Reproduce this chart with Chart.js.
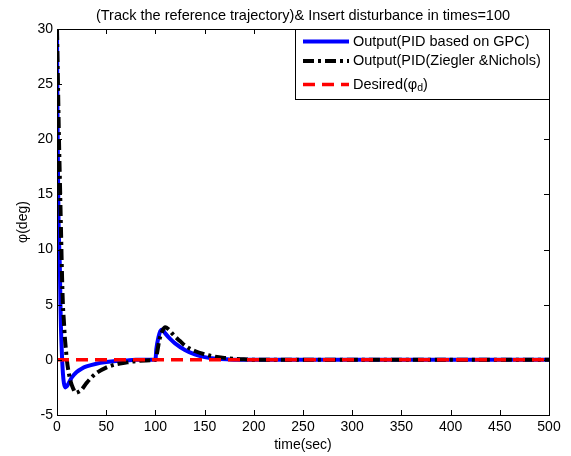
<!DOCTYPE html>
<html>
<head>
<meta charset="utf-8">
<script src="https://cdn.jsdelivr.net/npm/chart.js@4.4.1/dist/chart.umd.min.js"></script>
<style>
  html, body { margin: 0; padding: 0; background: #fff; }
  #wrap { width: 571px; height: 456px; }
</style>
</head>
<body>
<div id="wrap"><canvas id="phiChart" width="571" height="456"></canvas></div>
<script>
// --- data ---
const chartTitle = '(Track the reference trajectory)& Insert disturbance in times=100';
const xTitle = 'time(sec)';
const yTitle = 'φ(deg)';

const gpcTime = [0, 0.5, 1, 1.5, 2, 3, 3.5, 4, 5, 6, 7, 8.5, 10, 12, 15, 20, 25, 30, 40, 50,
    60, 70, 80, 100, 101, 103, 105, 107, 110, 115, 120, 130, 140, 150, 160, 175, 190, 500];
const gpcValues = [30, 22, 17, 13, 11, 8, 5, 3, 0.5, -1.2, -2.1, -2.5, -2.4, -2.1, -1.6, -1.1, -0.8, -0.6, -0.35, -0.2,
    -0.1, -0.05, 0, 0, 1.0, 2.0, 2.6, 2.75, 2.4, 1.9, 1.5, 0.9, 0.5, 0.25, 0.12, 0.04, 0, 0];

const znTime = [0, 1, 2, 3, 4, 5, 6, 7, 8, 9, 10, 12, 14, 16, 19, 22, 25, 30, 35, 40,
    50, 60, 70, 80, 90, 100, 102, 104, 107, 110, 113, 117, 120, 125, 130, 140, 150, 160, 170, 180,
    190, 200, 500];
const znValues = [30, 25, 20, 16, 12, 8, 5, 3.5, 2, 1, 0, -1.2, -2, -2.5, -3.0, -2.9, -2.7, -2.1, -1.6, -1.2,
    -0.7, -0.4, -0.25, -0.12, -0.05, 0, 0.8, 1.8, 2.6, 2.95, 2.8, 2.4, 2.1, 1.7, 1.3, 0.8, 0.5, 0.3, 0.18, 0.1,
    0.05, 0, 0];

const desiredTime = [0, 500];
const desiredValues = [0, 0];

const xTicks = [0, 50, 100, 150, 200, 250, 300, 350, 400, 450, 500];
const yTicks = [-5, 0, 5, 10, 15, 20, 25, 30];

const legendLabels = ['Output(PID based on GPC)', 'Output(PID(Ziegler &Nichols)', 'Desired(φ'];

const toPoints = (xs, ys) => xs.map((x, i) => ({ x: x, y: ys[i] }));
const FONT = "'Liberation Sans', Arial, sans-serif";

// MATLAB style: title, box, inward ticks and a legend inside the axes
const matlabBox = {
    id: 'matlabBox',
    afterDraw(chart) {
        const ctx = chart.ctx;
        const a = chart.chartArea;
        const xs = chart.scales.x, ys = chart.scales.y;
        ctx.save();
        ctx.fillStyle = '#000';
        ctx.font = '14.5px ' + FONT;
        ctx.textAlign = 'center';
        ctx.textBaseline = 'middle';
        ctx.fillText(chartTitle, (a.left + a.right) / 2, 16);

        ctx.strokeStyle = '#000';
        ctx.lineWidth = 1;
        ctx.beginPath();
        xTicks.forEach(v => {
            const px = Math.round(xs.getPixelForValue(v)) + 0.5;
            ctx.moveTo(px, a.bottom); ctx.lineTo(px, a.bottom - 5);
            ctx.moveTo(px, a.top); ctx.lineTo(px, a.top + 5);
        });
        yTicks.forEach(v => {
            const py = Math.round(ys.getPixelForValue(v)) + 0.5;
            ctx.moveTo(a.left, py); ctx.lineTo(a.left + 5, py);
            ctx.moveTo(a.right, py); ctx.lineTo(a.right - 5, py);
        });
        ctx.stroke();
        ctx.strokeRect(Math.round(a.left) + 0.5, Math.round(a.top) + 0.5,
            Math.round(a.right - a.left), Math.round(a.bottom - a.top));

        // legend (the subscript row is a little taller, as in MATLAB)
        const bx = 295.5, by = Math.round(a.top) + 0.5, bw = Math.round(a.right) - 295, bh = 70;
        const rows = [12, 31.5, 55];
        ctx.fillStyle = '#fff';
        ctx.fillRect(bx, by, bw, bh);
        ctx.strokeRect(bx, by, bw, bh);
        ctx.font = '14.5px ' + FONT;
        ctx.textAlign = 'left';
        [0, 1, 2].forEach(i => {
            const ds = chart.data.datasets[i];
            const ry = by + rows[i];
            ctx.save();
            ctx.strokeStyle = ds.borderColor;
            ctx.lineWidth = ds.borderWidth;
            ctx.setLineDash(ds.borderDash || []);
            ctx.beginPath();
            ctx.moveTo(303, ry); ctx.lineTo(349, ry);
            ctx.stroke();
            ctx.restore();
            ctx.fillStyle = '#000';
            ctx.fillText(legendLabels[i], 353, ry);
            if (i === 2) {
                const w = ctx.measureText(legendLabels[i]).width;
                ctx.font = '10.5px ' + FONT;
                ctx.fillText('d', 353 + w, ry + 4);
                const w2 = ctx.measureText('d').width;
                ctx.font = '14.5px ' + FONT;
                ctx.fillText(')', 353 + w + w2, ry);
            }
        });
        ctx.restore();
    }
};

new Chart(document.getElementById('phiChart'), {
    type: 'line',
    data: {
        datasets: [
            {
                label: legendLabels[0],
                data: toPoints(gpcTime, gpcValues),
                borderColor: '#0000ff',
                borderWidth: 4,
                order: 3
            },
            {
                label: legendLabels[1],
                data: toPoints(znTime, znValues),
                borderColor: '#000000',
                borderWidth: 4,
                borderDash: [11, 4, 3, 4],
                order: 2
            },
            {
                label: 'Desired(φd)',
                data: toPoints(desiredTime, desiredValues),
                borderColor: '#ff0000',
                borderWidth: 3.5,
                borderDash: [12, 7],
                order: 1
            }
        ]
    },
    options: {
        responsive: false,
        animation: false,
        devicePixelRatio: 1,
        layout: { padding: { top: 29, right: 22, bottom: 0, left: 0 } },
        elements: {
            point: { radius: 0 },
            line: { cubicInterpolationMode: 'monotone', fill: false }
        },
        plugins: {
            legend: { display: false },
            tooltip: { enabled: false },
            title: { display: false }
        },
        scales: {
            x: {
                type: 'linear',
                min: 0,
                max: 500,
                afterBuildTicks: s => { s.ticks = xTicks.map(v => ({ value: v })); },
                afterFit: s => { s.height = 41; },
                grid: { display: false, drawTicks: false },
                border: { display: false },
                ticks: { color: '#000', padding: 4, maxRotation: 0, font: { family: FONT, size: 14 } },
                title: { display: true, text: xTitle, color: '#000', font: { family: FONT, size: 14 }, padding: { top: 0, bottom: 2 } }
            },
            y: {
                type: 'linear',
                min: -5,
                max: 30,
                afterBuildTicks: s => { s.ticks = yTicks.map(v => ({ value: v })); },
                afterFit: s => { s.width = 57; },
                grid: { display: false, drawTicks: false },
                border: { display: false },
                ticks: { color: '#000', padding: 4, font: { family: FONT, size: 14 } },
                title: { display: true, text: yTitle, color: '#000', font: { family: FONT, size: 14 }, padding: { top: 15, bottom: 0 } }
            }
        }
    },
    plugins: [matlabBox]
});
</script>
</body>
</html>
